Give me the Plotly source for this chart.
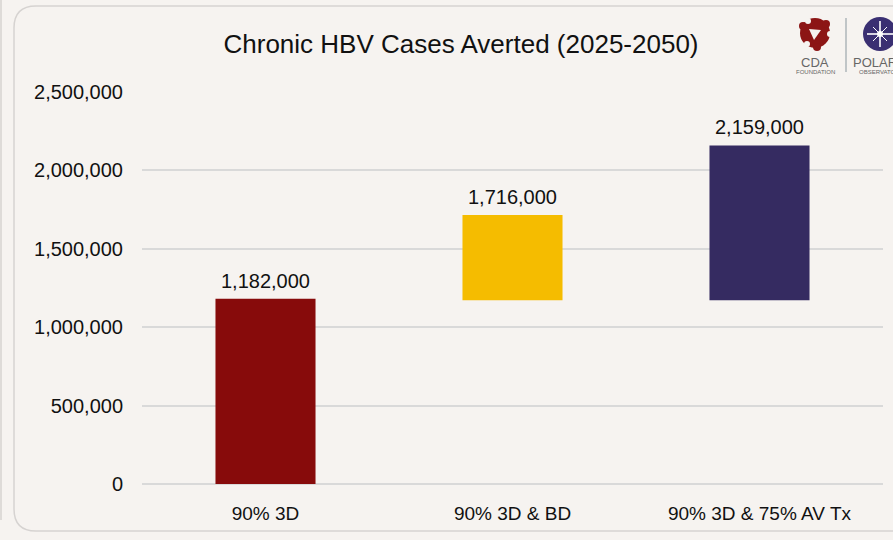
import plotly.graph_objects as go

categories = ["90% 3D", "90% 3D & BD", "90% 3D & 75% AV Tx"]
cases_averted = [1182000, 1716000, 2159000]
bar_base = [0, 1172000, 1172000]
bar_colors = ["#870b0b", "#f5bc00", "#352b61"]
y_ticks = [0, 500000, 1000000, 1500000, 2000000, 2500000]
y_tick_labels = [f"{v:,}" for v in y_ticks]
title_text = "Chronic HBV Cases Averted (2025-2050)"

FW, FH = 893, 540
L, R, T, B = 142, 10, 92, 56
PW, PH = FW - L - R, FH - T - B
BG = "#f6f3f0"
FONT = "Liberation Sans, Arial, sans-serif"


def px(x):
    return (x - L) / PW


def py(y):
    return (FH - B - y) / PH


fig = go.Figure()
fig.add_trace(go.Bar(
    x=categories,
    y=[v - b for v, b in zip(cases_averted, bar_base)],
    base=bar_base,
    marker=dict(color=bar_colors, line=dict(width=0)),
    width=0.405,
    hoverinfo="skip",
))

annotations = []
for c, v in zip(categories, cases_averted):
    annotations.append(dict(x=c, y=v, xref="x", yref="y", text=f"{v:,}",
                            showarrow=False, yanchor="bottom", yshift=5,
                            font=dict(size=20, color="#111111", family=FONT)))

# logo texts
annotations += [
    dict(x=px(815), y=py(63), xref="paper", yref="paper", text="CDA", showarrow=False,
         font=dict(size=13, color="#666666", family=FONT), xanchor="center", yanchor="middle"),
    dict(x=px(815), y=py(72), xref="paper", yref="paper", text="FOUNDATION", showarrow=False,
         font=dict(size=6, color="#666666", family=FONT), xanchor="center", yanchor="middle"),
    dict(x=px(851), y=py(63), xref="paper", yref="paper", text="POLARIS", showarrow=False,
         font=dict(size=13, color="#666666", family=FONT), xanchor="left", yanchor="middle"),
    dict(x=px(857), y=py(72), xref="paper", yref="paper", text="OBSERVATORY", showarrow=False,
         font=dict(size=6, color="#666666", family=FONT), xanchor="left", yanchor="middle"),
]

shapes = []
# card border (rounded rectangle)
x0, y0, x1, y1, r = 14, 6, 905, 531, 22
path = (f"M {px(x0)},{py(y0 + r)} L {px(x0)},{py(y1 - r)} "
        f"Q {px(x0)},{py(y1)} {px(x0 + r)},{py(y1)} L {px(x1)},{py(y1)} "
        f"L {px(x1)},{py(y0)} L {px(x0 + r)},{py(y0)} "
        f"Q {px(x0)},{py(y0)} {px(x0)},{py(y0 + r)} Z")
shapes.append(dict(type="path", xref="paper", yref="paper", path=path,
                   line=dict(color="#d6d3d1", width=1.5), fillcolor="rgba(0,0,0,0)", layer="below"))
# left neighbour panel edge
shapes.append(dict(type="line", xref="paper", yref="paper", x0=px(1), x1=px(1), y0=py(0), y1=py(520),
                   line=dict(color="#d6d3d1", width=1.5)))
# separator between logos
shapes.append(dict(type="line", xref="paper", yref="paper", x0=px(846), x1=px(846), y0=py(18), y1=py(72),
                   line=dict(color="#aeb6ba", width=1.5)))


def circle(cx, cy, rad, fill, line_color=None):
    return dict(type="circle", xref="paper", yref="paper",
                x0=px(cx - rad), x1=px(cx + rad), y0=py(cy + rad), y1=py(cy - rad),
                fillcolor=fill, line=dict(color=line_color or fill, width=0))


# CDA emblem
shapes.append(circle(815, 33, 15, "#8c1515"))
shapes.append(circle(803, 26, 4, "#8c1515"))
shapes.append(circle(826, 24, 4, "#8c1515"))
shapes.append(circle(817, 47, 4, "#8c1515"))
shapes.append(dict(type="path", xref="paper", yref="paper",
                   path=f"M {px(809)},{py(29)} L {px(821)},{py(30)} L {px(814)},{py(40)} Z",
                   fillcolor=BG, line=dict(width=0)))
shapes.append(circle(808, 21, 3, BG))
shapes.append(circle(830, 34, 3, BG))
shapes.append(circle(807, 44, 3, BG))

# POLARIS emblem
shapes.append(circle(880, 34, 17, "#3a2f72"))
for (ax, ay, bx, by, w) in [(880, 21, 880, 47, 1.6), (867, 34, 893, 34, 1.6),
                           (873, 27, 887, 41, 1.0), (873, 41, 887, 27, 1.0)]:
    shapes.append(dict(type="line", xref="paper", yref="paper", x0=px(ax), x1=px(bx),
                       y0=py(ay), y1=py(by), line=dict(color="white", width=w)))
shapes.append(circle(880, 34, 3, "white"))

fig.update_layout(
    width=FW, height=FH,
    margin=dict(l=L, r=R, t=T, b=B),
    paper_bgcolor=BG, plot_bgcolor=BG,
    showlegend=False,
    font=dict(family=FONT, color="#111111"),
    title=dict(text=title_text, x=461 / FW, xref="container", xanchor="center",
               y=1 - 44 / FH, yref="container", yanchor="middle",
               font=dict(size=26, color="#111111", family=FONT)),
    xaxis=dict(showgrid=False, showline=False, zeroline=False, ticks="",
               tickfont=dict(size=19, color="#111111"), ticklabelstandoff=16,
               fixedrange=True),
    yaxis=dict(range=[0, 2500000], tickvals=y_ticks, ticktext=y_tick_labels,
               showgrid=True, gridcolor="#d9d9d9", gridwidth=1.5,
               zeroline=True, zerolinecolor="#d9d9d9", zerolinewidth=1.5,
               showline=False, ticks="", tickfont=dict(size=20, color="#111111"),
               ticklabelstandoff=18, fixedrange=True),
    annotations=annotations,
    shapes=shapes,
    bargap=0.595,
)

fig.write_html("out.html", config={"displayModeBar": False},
               post_script="document.body.style.margin='0';document.body.style.background='%s';" % BG)
